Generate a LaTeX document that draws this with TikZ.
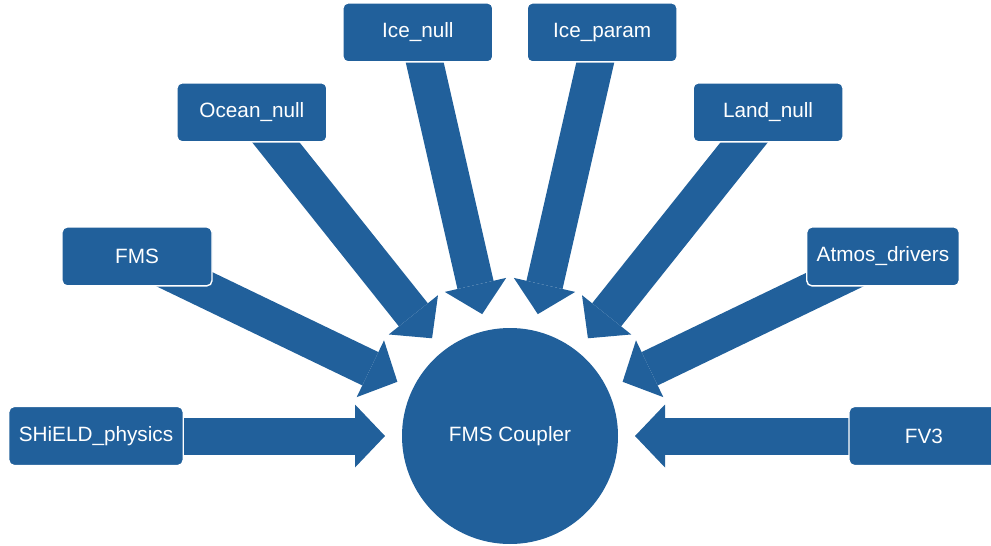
\documentclass[tikz,border=0pt]{standalone}
\usepackage{fontspec}
\setmainfont{Liberation Sans}
\usetikzlibrary{calc,arrows.meta,backgrounds}

\definecolor{fmsblue}{RGB}{33,96,155}

\tikzset{
  box/.style={rectangle, rounded corners=3pt, fill=fmsblue, draw=white, line width=0.8pt,
    text=white, font=\fontsize{11.8pt}{14pt}\selectfont,
    minimum width=3cm, minimum height=1.18cm, inner xsep=0.2cm},
  bigarrow/.style={draw=fmsblue, line width=0.74cm,
    -{Triangle[width=1.26cm, length=0.6cm, line width=0pt]}}
}

\begin{document}
\begin{tikzpicture}

\useasboundingbox (0,0) rectangle (19.82,10.9);

% === CENTRAL COUPLER ===
\node[circle, fill=fmsblue, text=white, minimum size=4.32cm,
  font=\fontsize{11.8pt}{14pt}\selectfont] (coupler) at (10.2,2.18) {FMS Coupler};

% === COMPONENTS ON A HALF RING ===
% angle / name / label
\foreach \ang/\name/\label in {
  180/shield/SHiELD\_physics,
  154.29/fms/FMS,
  128.57/ocean/Ocean\_null,
  102.86/icenull/Ice\_null,
  77.14/iceparam/Ice\_param,
  51.43/land/Land\_null,
  25.71/atmos/Atmos\_drivers,
  0/fvthree/FV3
} {
  \node[box] (\name) at ($(coupler.center)+(\ang:8.28)$) {\label};
  \coordinate (\name-tip) at ($(coupler.center)+(\ang:2.5)$);
  \begin{scope}[on background layer]
    \draw[bigarrow] (\name.center) -- (\name-tip);
  \end{scope}
}

\end{tikzpicture}
\end{document}
